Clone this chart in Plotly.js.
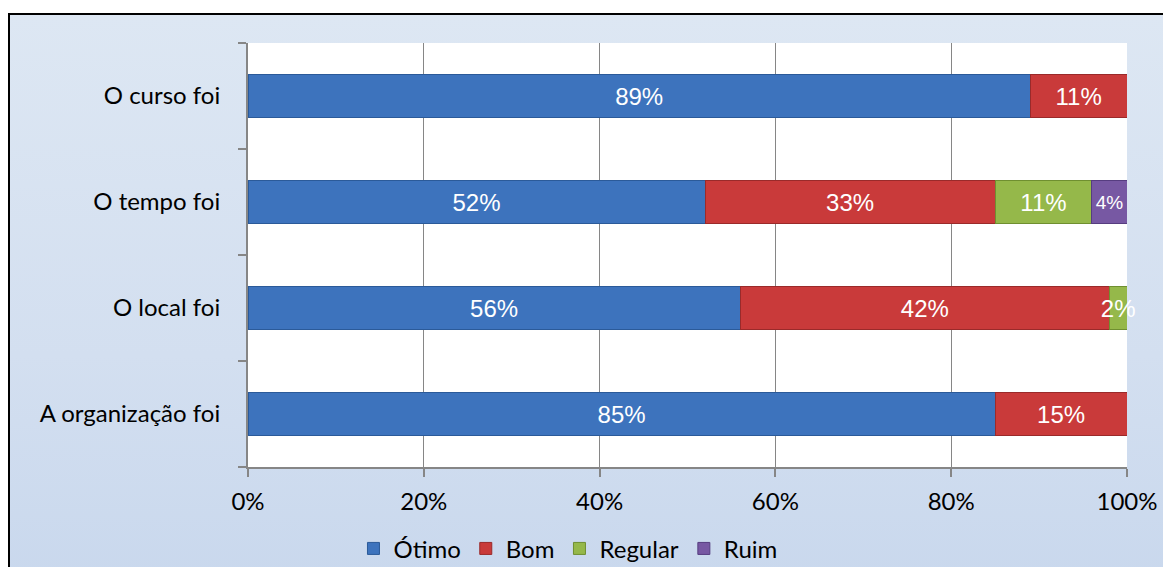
<!DOCTYPE html>
<html>
<head>
<meta charset="utf-8">
<script src="https://cdn.plot.ly/plotly-3.0.1.min.js"></script>
<style>
  html, body { margin: 0; padding: 0; background: #ffffff; overflow: hidden; }
  #frame {
    position: absolute; left: 8px; top: 13px; width: 1170px; height: 570px;
    border: 2px solid #000000; box-sizing: border-box;
    background: linear-gradient(to bottom, #dde7f3 0%, #d3dff0 60%, #c9d8ed 100%);
  }
  #chart { position: absolute; left: 0; top: 0; width: 1163px; height: 567px; }
</style>
</head>
<body>
<div id="frame"></div>
<div id="chart"></div>
<script>
// Categories from bottom to top
var categories = ["A organização foi", "O local foi", "O tempo foi", "O curso foi"];
var seriesNames = ["Ótimo", "Bom", "Regular", "Ruim"];
var otimo   = [85, 56, 52, 89];
var bom     = [15, 42, 33, 11];
var regular = [0, 2, 11, 0];
var ruim    = [0, 0, 4, 0];
var xTickVals = [0, 20, 40, 60, 80, 100];
var xTickText = ["0%", "20%", "40%", "60%", "80%", "100%"];

var colors = ["#3d73bd", "#c93a3a", "#95b84a", "#7758a3"];
var lineColors = ["#2b5a99", "#9a2a2a", "#6f8f30", "#563d80"];
var labelSizes = [24, 24, 24, 19];
var allSeries = [otimo, bom, regular, ruim];

var yIdx = categories.map(function (c, i) { return i; });

var traces = allSeries.map(function (vals, s) {
  return {
    type: "bar",
    orientation: "h",
    name: seriesNames[s],
    y: yIdx,
    x: vals,
    width: 0.4,
    marker: { color: colors[s], line: { color: lineColors[s], width: 1 } },
    text: vals.map(function (v) { return v > 0 ? v + "%" : ""; }),
    textposition: "inside",
    insidetextanchor: "middle",
    textangle: 0,
    constraintext: "none",
    cliponaxis: false,
    textfont: {
      family: "Liberation Sans, Arial, sans-serif",
      color: "#ffffff",
      size: labelSizes[s]
    },
    hoverinfo: "skip"
  };
});

var layout = {
  width: 1163,
  height: 567,
  margin: { l: 248, r: 36, t: 43, b: 100, autoexpand: false },
  paper_bgcolor: "rgba(0,0,0,0)",
  plot_bgcolor: "#ffffff",
  barmode: "stack",
  showlegend: true,
  legend: {
    orientation: "h",
    x: 0.12, xanchor: "left",
    y: -0.193, yanchor: "middle",
    font: { family: "Lato, sans-serif", size: 24, color: "#000000" },
    itemwidth: 30,
    traceorder: "normal",
    bgcolor: "rgba(0,0,0,0)"
  },
  xaxis: {
    range: [0, 100],
    tickvals: xTickVals,
    ticktext: xTickText,
    ticks: "outside",
    ticklen: 8,
    tickcolor: "#868686",
    tickwidth: 2,
    showgrid: true,
    gridcolor: "#868686",
    gridwidth: 1,
    showline: true,
    linecolor: "#868686",
    linewidth: 2,
    zeroline: false,
    ticklabelstandoff: 4,
    tickfont: { family: "Lato, sans-serif", size: 24, color: "#000000" },
    fixedrange: true
  },
  yaxis: {
    range: [-0.5, 3.5],
    tickvals: yIdx,
    ticktext: categories,
    ticks: "",
    showgrid: false,
    showline: true,
    linecolor: "#868686",
    linewidth: 2,
    zeroline: false,
    ticklabelstandoff: 21,
    minor: { tick0: -0.5, dtick: 1, ticks: "outside", ticklen: 8, tickcolor: "#868686", tickwidth: 2, showgrid: false },
    tickfont: { family: "Lato, sans-serif", size: 24, color: "#000000" },
    fixedrange: true
  }
};

Plotly.newPlot("chart", traces, layout, { staticPlot: true, displayModeBar: false });
</script>
</body>
</html>
